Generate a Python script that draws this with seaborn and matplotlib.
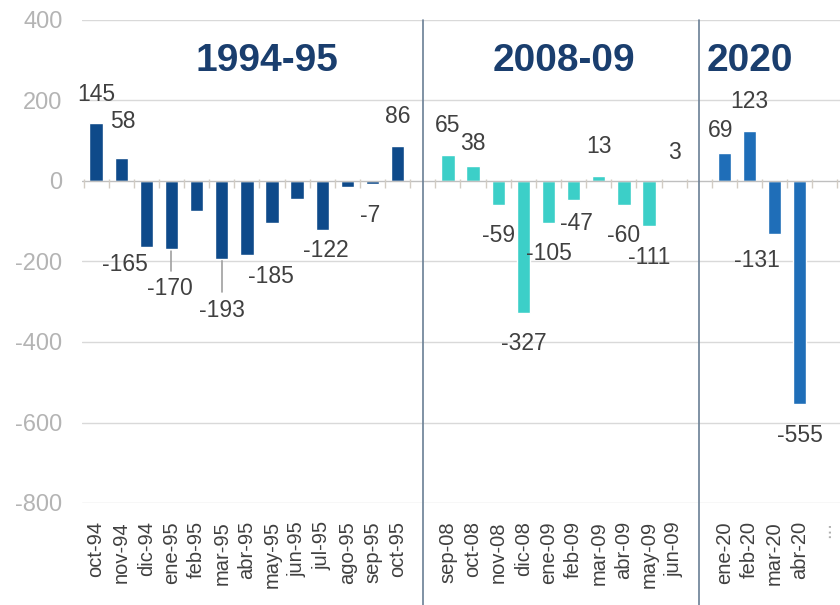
import matplotlib
matplotlib.use("Agg")
import matplotlib.pyplot as plt
import numpy as np
import pandas as pd
import seaborn as sns

# ---------------- data ----------------
group_names = ["1994-95", "2008-09", "2020"]

months_9495 = ["oct-94", "nov-94", "dic-94", "ene-95", "feb-95", "mar-95", "abr-95",
               "may-95", "jun-95", "jul-95", "ago-95", "sep-95", "oct-95"]
values_9495 = [145, 58, -165, -170, -75, -193, -185, -105, -45, -122, -15, -7, 86]
labels_9495 = ["145", "58", "-165", "-170", "", "-193", "-185", "", "", "-122", "", "-7", "86"]

months_0809 = ["sep-08", "oct-08", "nov-08", "dic-08", "ene-09", "feb-09", "mar-09",
               "abr-09", "may-09", "jun-09"]
values_0809 = [65, 38, -59, -327, -105, -47, 13, -60, -111, 3]
labels_0809 = ["65", "38", "-59", "-327", "-105", "-47", "13", "-60", "-111", "3"]

months_2020 = ["ene-20", "feb-20", "mar-20", "abr-20"]
values_2020 = [69, 123, -131, -555]
labels_2020 = ["69", "123", "-131", "-555"]

y_ticks = [-800, -600, -400, -200, 0, 200, 400]

# ---------------- style ----------------
colors = {"1994-95": "#0E4A8A", "2008-09": "#3CCFC8", "2020": "#1F6EB8"}
title_color = "#1A3E6E"
label_color = "#404040"
# label offsets (dx in category slots, dy in data units) – placement only
off_9495 = [(0, 70), (0.05, 89), (-0.85, -42), (-0.06, -98), (0, 0), (0, -129), (0.94, -52),
            (0, 0), (0, 0), (0.13, -50), (0, 0), (-0.1, -78), (0, 74)]
off_0809 = [(0, 72), (0, 54), (0, -76), (0, -76), (0, -75), (0.1, -58), (0, 72),
            (0, -75), (0, -79), (0, 69)]
off_2020 = [(-0.15, 56), (0, 75), (-0.7, -66), (0, -77)]
leader = {"-170", "-193"}

sns.set_theme(style="white")
plt.rcParams["font.family"] = ["Liberation Sans", "DejaVu Sans"]

# build table
rows = []
for g, ms, vs in zip(group_names, [months_9495, months_0809, months_2020],
                     [values_9495, values_0809, values_2020]):
    for m, v in zip(ms, vs):
        rows.append({"mes": m, "valor": v, "grupo": g})
df = pd.DataFrame(rows)

order = months_9495 + [" "] + months_0809 + ["  "] + months_2020 + ["..."]

fig = plt.figure(figsize=(8.4, 6.05), dpi=100)
ax = fig.add_axes([82 / 840, 1 - 503 / 605, 758 / 840, 483 / 605])

sns.barplot(data=df, x="mes", y="valor", hue="grupo", order=order,
            palette=colors, dodge=False, width=0.53, saturation=1,
            legend=False, ax=ax, zorder=3)

ax.set_xlim(-0.56, 29.6)
ax.set_ylim(-800, 400)
ax.set_yticks(y_ticks)
ax.set_yticklabels([str(t) for t in y_ticks], fontsize=17, color="#B4B4B4")
ax.set_xticks(range(len(order)))
ax.set_xticklabels(order, rotation=90, fontsize=14.5, color=label_color, va="top")
for t in ax.get_xticklabels():
    if t.get_text() == "...":
        t.set_color("#B0B0B0")
ax.tick_params(axis="both", length=0)
ax.tick_params(axis="x", pad=13)
ax.tick_params(axis="y", pad=14)
ax.set_xlabel("")
ax.set_ylabel("")
for s in ax.spines.values():
    s.set_visible(False)

# gridlines
for t in y_ticks:
    if t == 0:
        continue
    ax.axhline(t, color="#D9D9D9", lw=1, zorder=0)
ax.axhline(0, color="#BFBFBF", lw=1, zorder=4)
ax.vlines(np.arange(len(order) + 1) - 0.5, -18, 4, color="#D2CCC4", lw=1, zorder=4)

# group separators
sep_positions = [order.index(" "), order.index("  ")]
for xp in sep_positions:
    ax.axvline(xp, ymin=-0.211, ymax=1, color="#6A7F95", lw=1.2, clip_on=False, zorder=5)

# value labels
all_months = [months_9495, months_0809, months_2020]
all_vals = [values_9495, values_0809, values_2020]
all_labels = [labels_9495, labels_0809, labels_2020]
all_offs = [off_9495, off_0809, off_2020]
for ms, vs, ls, os_ in zip(all_months, all_vals, all_labels, all_offs):
    for m, v, l, (dx, dy) in zip(ms, vs, ls, os_):
        if not l:
            continue
        xi = order.index(m)
        ax.text(xi + dx, v + dy, l, ha="center", va="center", fontsize=16.5,
                color=label_color, zorder=6)
        if l in leader:
            ax.plot([xi, xi], [v - 3, v + dy + 45], color="#A0A0A0", lw=1.2, zorder=2)

# group titles
title_x = [6.8, 18.6, 26.0]
for g, xp in zip(group_names, title_x):
    ax.text(xp, 297, g, ha="center", va="center", fontsize=28, fontweight="bold",
            color=title_color, zorder=6)

fig.savefig("out.png", dpi=100)
